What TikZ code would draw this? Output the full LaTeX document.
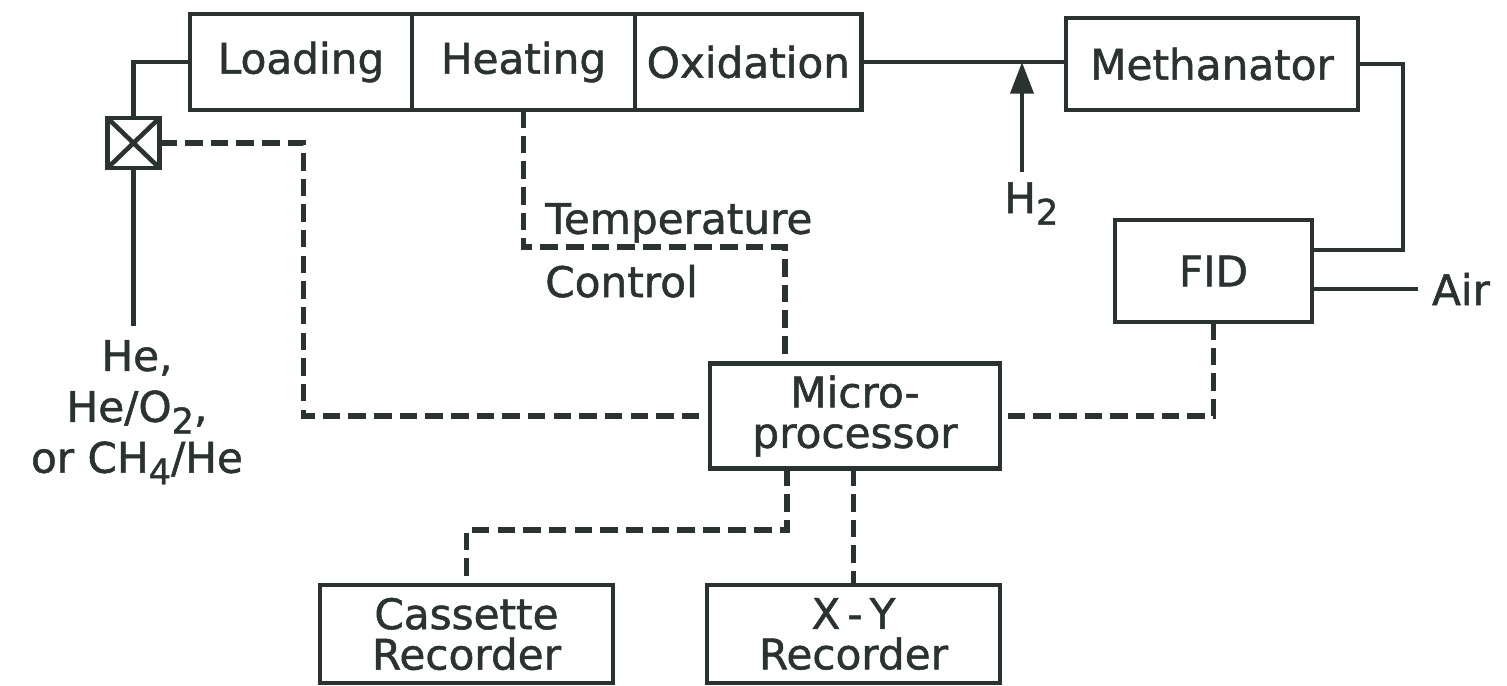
\documentclass[tikz,border=0pt]{standalone}
\usepackage{fontspec}
\setmainfont{DejaVu Sans}[FakeBold=1.2]
\usepackage{tikz}
\usetikzlibrary{arrows.meta,positioning}
\definecolor{ink}{HTML}{2B3330}
\newcommand{\subidx}[1]{\raisebox{-0.5ex}{\fontsize{10}{10}\selectfont #1}}

\begin{document}
\begin{tikzpicture}[
  x=0.1mm, y=-0.1mm,
  font=\fontsize{12}{11.5}\selectfont,
  color=ink, line width=1.3pt,
  box/.style={draw,outer sep=0pt,align=center,minimum height=9.6mm},
  sig/.style={dash pattern=on 5pt off 2.3pt,line width=1.5pt},
  arr/.style={-{Triangle[length=9pt,width=6.5pt]}}
]
\useasboundingbox (0,0) rectangle (1507,685);
\node[box,minimum width=22.2mm] (loading) at (301,62) {Loading};
\node[box,minimum width=22.3mm,right=0pt of loading] (heating) {Heating};
\node[box,minimum width=21.7mm,right=0pt of heating] (oxidation) {Oxidation};
\node[box,minimum width=29.2mm,minimum height=9.2mm] (methanator) at (1212,64) {Methanator};
\node[box,minimum width=19.7mm,minimum height=10.2mm] (fid) at (1213.5,271) {FID};
\node[box,minimum width=29mm,minimum height=9.8mm] (micro) at (855,416) {Micro-\\processor};
\node[box,minimum width=29.3mm,minimum height=9.8mm] (cassette) at (466.5,634) {Cassette\\Recorder};
\node[box,minimum width=29.3mm,minimum height=9.8mm] (xy) at (853.5,634) {X\,-\,Y\\Recorder};
\node[draw,outer sep=0pt,inner sep=0pt,minimum width=5.2mm,minimum height=5mm] (valve) at (133.5,143) {};
\draw (valve.north west) -- (valve.south east) (valve.north east) -- (valve.south west);

% labels
\node[align=center,inner sep=0pt,outer sep=4pt,anchor=north,font=\fontsize{12}{14.5}\selectfont] (gas) at (137,326) {He,\\He/O\subidx{2},\\or CH\subidx{4}/He};
\node[anchor=north west,inner sep=0pt] (h2) at (1002,180) {H\subidx{2}};
\node[anchor=base west,align=left,inner sep=0pt,font=\fontsize{12}{18}\selectfont] (tc) at (543,297) {Temperature\\Control};
\node[anchor=base west,inner sep=0pt,outer sep=4pt] (air) at (1418,305) {Air};
\coordinate (h2in) at (1022,172);
\coordinate (mbend) at (1403,250);
\coordinate (tbend) at (785,247);
\coordinate (cbend) at (787,530);

% gas lines
\draw (loading.west) -| (valve.north);
\draw (valve.south) -- (valve.south |- gas.north);
\draw (oxidation.east) -- (oxidation.east -| methanator.west);
\draw[arr] (h2in) -- (h2in |- oxidation.east);
\draw (methanator.east) -| (mbend) -- (mbend -| fid.east);
\draw (air.west -| fid.east) -- (air.west);

% signal lines
\draw[sig] (valve.east) -- ++(144,0) |- (micro.west);
\draw[sig] (heating.south) |- (tbend) -- (tbend |- micro.north);
\draw[sig] (fid.south) |- (micro.east);
\draw[sig] (cbend |- micro.south) -- (cbend) -| (cassette.north);
\draw[sig] (xy.north |- micro.south) -- (xy.north);
\end{tikzpicture}
\end{document}
